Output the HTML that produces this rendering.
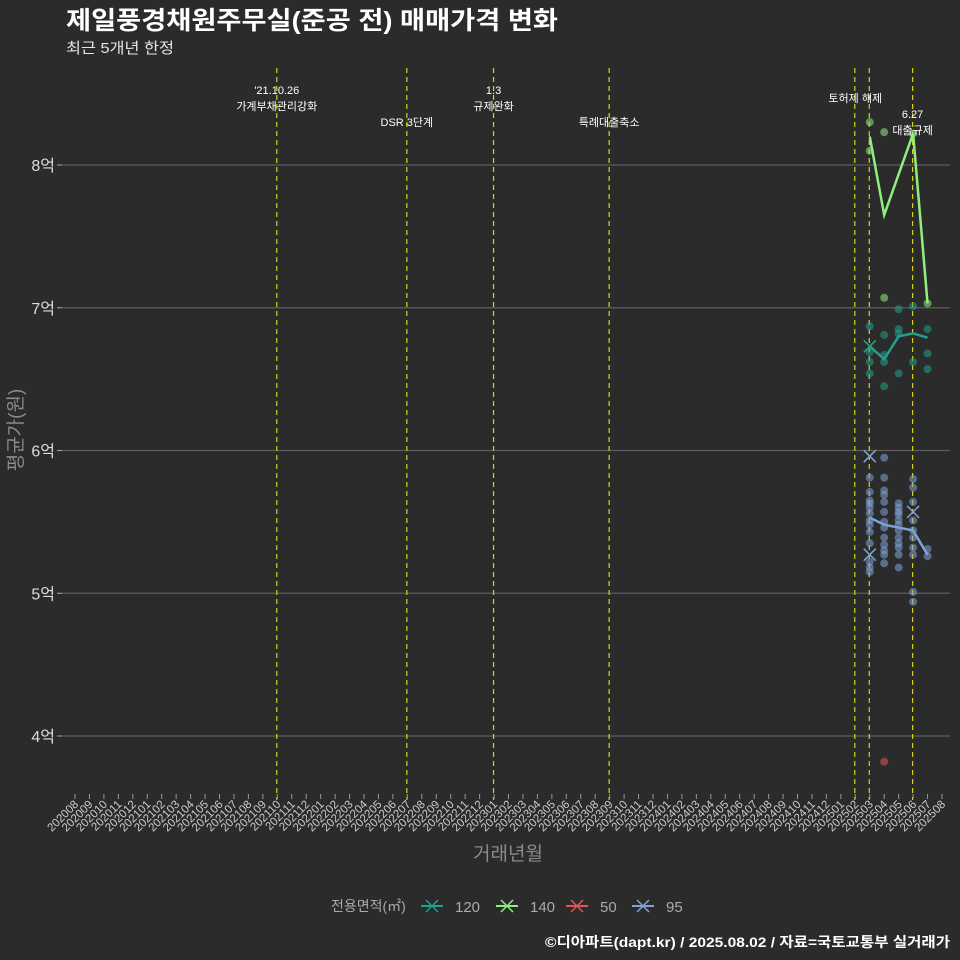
<!DOCTYPE html>
<html><head><meta charset="utf-8">
<style>
html,body{margin:0;padding:0;background:#2b2b2b;}
svg{display:block;font-family:"Liberation Sans","Noto Sans CJK KR",sans-serif;}
</style></head>
<body>
<svg id="chart" width="960" height="960" viewBox="0 0 960 960">
<rect x="0" y="0" width="960" height="960" fill="#2b2b2b"/>
<text x="66" y="29" fill="#ffffff" font-size="25" font-weight="bold" textLength="492" lengthAdjust="spacingAndGlyphs">제일풍경채원주무실(준공 전) 매매가격 변화</text>
<text x="66" y="53" fill="#e6e6e6" font-size="15" textLength="108" lengthAdjust="spacingAndGlyphs">최근 5개년 한정</text>
<text transform="translate(22,430) rotate(-90)" text-anchor="middle" fill="#8a8a8a" font-size="19">평균가(원)</text>
<text x="508" y="860" text-anchor="middle" fill="#8a8a8a" font-size="19">거래년월</text>
<text x="545" y="947" fill="#ffffff" font-size="14" font-weight="bold" textLength="405" lengthAdjust="spacingAndGlyphs">©디아파트(dapt.kr) / 2025.08.02 / 자료=국토교통부 실거래가</text>
<g id="grid"></g><g id="vlines"></g><g id="xaxis"></g><g id="yaxis"></g><g id="marks"></g><g id="notes"></g><g id="legend"></g>
</svg>
<script>
const months = [];
for (let y = 2020, m = 8; months.length < 61; ) { months.push(String(y) + String(m).padStart(2, '0')); m++; if (m > 12) { m = 1; y++; } }
const yTicks = [4, 5, 6, 7, 8];
const yTickLabels = ['4억', '5억', '6억', '7억', '8억'];
const eventMonths = ['202110', '202207', '202301', '202309', '202502', '202503', '202506'];
const eventLabels = [["'21.10.26", '가계부채관리강화'], ['', 'DSR 3단계'], ['1.3', '규제완화'], ['', '특례대출축소'], ['', ''], ['', '토허제 해제'], ['6.27', '대출규제']];
const eventLabelRow = [0, 1, 0, 1, 0, 0, 2];
const lineMonths = ['202503', '202504', '202505', '202506', '202507'];
const line120 = [6.73, 6.64, 6.80, 6.82, 6.79];
const line140 = [8.20, 7.65, null, 8.22, 7.03];
const line95 = [5.53, 5.48, 5.46, 5.44, 5.27];
const pts140Month = ['202503', '202503', '202504', '202504', '202506', '202507'];
const pts140Val = [8.30, 8.10, 8.23, 7.07, 8.22, 7.03];
const pts120Month = ['202503','202503','202503','202503','202504','202504','202504','202504','202505','202505','202505','202505','202506','202506','202507','202507','202507'];
const pts120Val = [6.87, 6.69, 6.62, 6.54, 6.81, 6.67, 6.62, 6.45, 6.99, 6.85, 6.82, 6.54, 7.01, 6.62, 6.85, 6.68, 6.57];
const pts50Month = ['202504'];
const pts50Val = [3.82];
const pts95Month = ['202503','202503','202503','202503','202503','202503','202503','202503','202503','202503','202503','202503','202503',
 '202504','202504','202504','202504','202504','202504','202504','202504','202504','202504','202504','202504','202504',
 '202505','202505','202505','202505','202505','202505','202505','202505','202505','202505','202505','202505',
 '202506','202506','202506','202506','202506','202506','202506','202506','202506','202506',
 '202507','202507'];
const pts95Val = [5.81,5.71,5.65,5.63,5.60,5.56,5.51,5.48,5.43,5.35,5.22,5.18,5.15,
 5.95,5.81,5.72,5.69,5.64,5.57,5.50,5.46,5.39,5.34,5.30,5.27,5.21,
 5.63,5.60,5.57,5.55,5.51,5.48,5.44,5.39,5.35,5.32,5.27,5.18,
 5.80,5.74,5.64,5.51,5.44,5.39,5.32,5.27,5.01,4.94,
 5.31,5.26];
const xMarkMonth = ['202503', '202503', '202503', '202506'];
const xMarkVal = [6.73, 5.96, 5.27, 5.57];
const xMarkSeries = ['120', '95', '95', '95'];
const legendKeys = ['120', '140', '50', '95'];

const colors = { '120': '#23a08d', '140': '#90ee80', '50': '#e05555', '95': '#7fa3d6' };
const NS = 'http://www.w3.org/2000/svg';
function xScale(mo) { return 75 + months.indexOf(mo) * 14.45; }
function yScale(v) { return 165 + (8 - v) * 142.75; }
function el(tag, attrs, parent, text) {
  const e = document.createElementNS(NS, tag);
  for (const k in attrs) e.setAttribute(k, attrs[k]);
  if (text !== undefined) e.textContent = text;
  parent.appendChild(e); return e;
}
const grid = document.getElementById('grid'), yaxis = document.getElementById('yaxis');
yTicks.forEach((t, i) => {
  const g = el('line', { x1: 62, x2: 950, y1: yScale(t), y2: yScale(t), stroke: '#5e5e5e', 'stroke-width': 1.2 }, grid);
  
  
  el('line', { x1: 57, x2: 62, y1: yScale(t), y2: yScale(t), stroke: '#aaa' }, yaxis);
  const tx = el('text', { x: 55, y: yScale(t) + 6, 'text-anchor': 'end', fill: '#dddddd', 'font-size': 16 }, yaxis, yTickLabels[i]);
  
  
});
const xaxis = document.getElementById('xaxis');
months.forEach(mo => {
  const x = xScale(mo);
  el('line', { x1: x, x2: x, y1: 794, y2: 799, stroke: '#999' }, xaxis);
  const t = el('text', { transform: `translate(${x + 4},${805}) rotate(-45)`, 'text-anchor': 'end', fill: '#cccccc', 'font-size': 11.5 }, xaxis, mo);
  
  
});
const vlines = document.getElementById('vlines'), notes = document.getElementById('notes');
const rowY = [[94, 110], [110, 126], [118, 134]];
eventMonths.forEach((mo, i) => {
  const x = xScale(mo) - 0.5;
  const l = el('line', { x1: x, x2: x, y1: 68, y2: 800, stroke: '#d4d41a', 'stroke-width': 1.2, 'stroke-dasharray': '5,4' }, vlines);
  
  
  const ry = rowY[eventLabelRow[i]];
  eventLabels[i].forEach((s, j) => {
    if (!s) return;
    const cx = mo === '202503' ? x - 14 : x;
    const t = el('text', { x: cx, y: ry[j] + (i === 5 ? -8 : 0), 'text-anchor': 'middle', fill: '#ffffff', 'font-size': 11 }, notes, s);
    
    
  });
});
const marks = document.getElementById('marks');
function dots(ms, vs, key) {
  ms.forEach((mo, i) => {
    const c = el('circle', { cx: xScale(mo), cy: yScale(vs[i]), r: 4, fill: colors[key], 'fill-opacity': 0.55 }, marks);
    
    
  });
}
function line(vs, key) {
  let d = '';
  vs.forEach((v, i) => { if (v === null) return; d += (d ? 'L' : 'M') + xScale(lineMonths[i]) + ',' + yScale(v); });
  const p = el('path', { d: d, fill: 'none', stroke: colors[key], 'stroke-width': 2.5 }, marks);
  
  
}
dots(pts120Month, pts120Val, '120');
dots(pts95Month, pts95Val, '95');
dots(pts50Month, pts50Val, '50');
dots(pts140Month, pts140Val, '140');
line(line120, '120'); line(line95, '95'); line(line140, '140');
xMarkMonth.forEach((mo, i) => {
  const x = xScale(mo), y = yScale(xMarkVal[i]), s = 6;
  const p = el('path', { d: `M${x-s},${y-s}L${x+s},${y+s}M${x-s},${y+s}L${x+s},${y-s}`, stroke: colors[xMarkSeries[i]], 'stroke-width': 1.5 }, marks);
  
  
});
const legend = document.getElementById('legend');
const lt = el('text', { x: 331, y: 911, fill: '#aaaaaa', 'font-size': 14 }, legend, '전용면적(㎡)');


const lx = [432, 507, 577, 643];
legendKeys.forEach((k, i) => {
  const g = el('g', {}, legend);
  
  
  const x = lx[i], y = 906;
  el('line', { x1: x - 11, x2: x + 11, y1: y, y2: y, stroke: colors[k], 'stroke-width': 2 }, g);
  el('path', { d: `M${x-6},${y-6}L${x+6},${y+6}M${x-6},${y+6}L${x+6},${y-6}`, stroke: colors[k], 'stroke-width': 1.5 }, g);
  el('text', { x: x + 23, y: 912, fill: '#aaaaaa', 'font-size': 15 }, g, k);
});
</script>
</body></html>
